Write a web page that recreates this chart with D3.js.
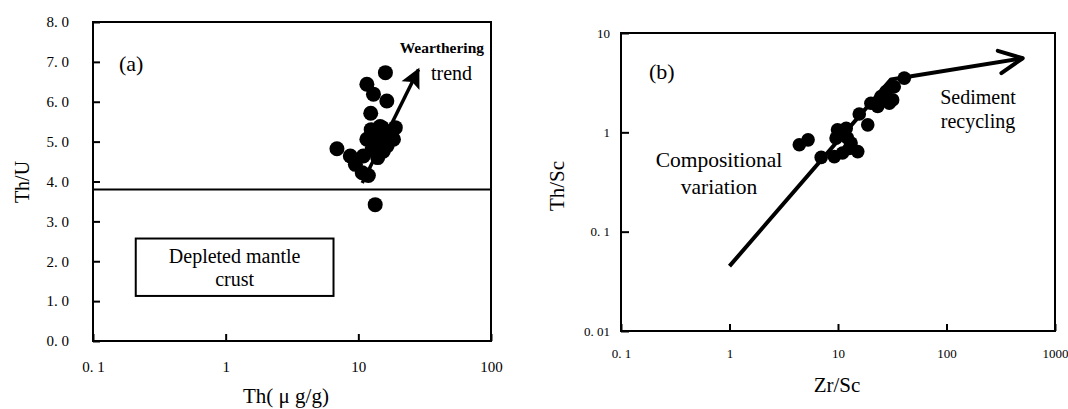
<!DOCTYPE html>
<html>
<head>
<meta charset="utf-8">
<script src="https://d3js.org/d3.v7.min.js"></script>
<style>
  body { margin: 0; background: #fff; }
  svg text { font-family: "Liberation Serif", "Times New Roman", serif; fill: #000; }
</style>
</head>
<body>
<div id="chart"></div>
<script>

// ---- panel (a): Th vs Th/U ----
var thA  = [16.0, 11.6, 13.0, 16.4, 12.4, 15.1, 19.0, 11.6, 14.6, 18.4, 6.9, 8.7, 9.5, 10.7, 11.9, 13.4, 12.7, 15.4, 10.9, 13.5, 17.0, 14.0, 16.5, 12.5, 14.6];
var thuA = [6.73, 6.44, 6.19, 6.02, 5.71, 5.35, 5.35, 5.06, 4.97, 5.06, 4.82, 4.64, 4.43, 4.22, 4.15, 3.42, 4.80, 4.76, 4.64, 5.20, 5.10, 4.60, 4.90, 5.30, 5.38];
var xTicksA = [0.1, 1, 10, 100];
var xTickLabelsA = ["0. 1", "1", "10", "100"];
var yTicksA = [0, 1, 2, 3, 4, 5, 6, 7, 8];
var dmLevel = 3.8;                       // depleted mantle Th/U line
var dmBoxTh = [0.21, 6.5];               // label box, in Th units
var dmBoxThU = [1.13, 2.57];             // label box, in Th/U units
var weatherArrowTh = [10.7, 28.4];
var weatherArrowThU = [3.96, 6.81];

// ---- panel (b): Zr/Sc vs Th/Sc ----
var zrsc = [4.4, 5.3, 7.0, 9.6, 9.9, 11.9, 9.25, 11.0, 13.2, 15.2, 12.7, 15.7, 18.8, 23.2, 24.9, 27.7, 31.9, 33.0, 40.8, 20.1, 29.7, 10.8, 12.2];
var thsc = [0.75, 0.84, 0.56, 0.875, 1.06, 1.10, 0.57, 0.62, 0.78, 0.64, 0.69, 1.53, 1.19, 1.82, 2.29, 2.57, 2.12, 2.88, 3.51, 1.96, 1.96, 0.95, 0.88];
var xTicksB = [0.1, 1, 10, 100, 1000];
var xTickLabelsB = ["0. 1", "1", "10", "100", "1000"];
var yTicksB = [0.01, 0.1, 1, 10];
var yTickLabelsB = ["0. 01", "0. 1", "1", "10"];
var trendZr = [1, 30.8, 504];            // compositional variation -> sediment recycling
var trendTh = [0.045, 3.41, 5.57];

var svg = d3.select("#chart").append("svg")
    .attr("width", 1068)
    .attr("height", 409);

// ================= panel (a) =================
var a = {left: 93, right: 491, top: 22, bottom: 341};

var xA = d3.scaleLog().domain([0.1, 100]).range([a.left, a.right]);
var yA = d3.scaleLinear().domain([0, 8]).range([a.bottom, a.top]);

var gA = svg.append("g");

// ticks point inward
gA.append("g")
    .attr("transform", "translate(0," + a.bottom + ")")
    .call(d3.axisBottom(xA).tickValues(xTicksA)
      .tickFormat(function(d, i) { return xTickLabelsA[i]; })
      .tickSize(-7).tickPadding(20))
    .call(function(g) {
      g.select(".domain").remove();
      g.selectAll("line").attr("stroke-width", 2);
      g.selectAll("text").attr("font-size", 15).attr("font-family", null);
    });

gA.append("g")
    .attr("transform", "translate(" + a.left + ",0)")
    .call(d3.axisLeft(yA).tickValues(yTicksA)
      .tickFormat(function(d) { return d3.format(".1f")(d).replace(".", ". "); })
      .tickSize(-7).tickPadding(24))
    .call(function(g) {
      g.select(".domain").remove();
      g.selectAll("line").attr("stroke-width", 2);
      g.selectAll("text").attr("font-size", 15).attr("font-family", null);
    });

gA.append("rect")
    .attr("x", a.left).attr("y", a.top)
    .attr("width", a.right - a.left).attr("height", a.bottom - a.top)
    .attr("fill", "none").attr("stroke", "#000").attr("stroke-width", 2);

// depleted mantle line
gA.append("line")
    .attr("x1", a.left).attr("x2", a.right)
    .attr("y1", yA(dmLevel)).attr("y2", yA(dmLevel))
    .attr("stroke", "#000").attr("stroke-width", 2);

gA.append("rect")
    .attr("x", xA(dmBoxTh[0])).attr("y", yA(dmBoxThU[1]))
    .attr("width", xA(dmBoxTh[1]) - xA(dmBoxTh[0]))
    .attr("height", yA(dmBoxThU[0]) - yA(dmBoxThU[1]))
    .attr("fill", "none").attr("stroke", "#000").attr("stroke-width", 2);

var boxCx = (xA(dmBoxTh[0]) + xA(dmBoxTh[1])) / 2;
gA.append("text").attr("x", boxCx).attr("y", 263)
    .attr("text-anchor", "middle").attr("font-size", 20).text("Depleted mantle");
gA.append("text").attr("x", boxCx).attr("y", 286)
    .attr("text-anchor", "middle").attr("font-size", 20).text("crust");

gA.append("text").attr("x", 119).attr("y", 71)
    .attr("font-size", 22).text("(a)");

gA.selectAll("circle")
    .data(thA)
    .join("circle")
      .attr("cx", function(d) { return xA(d); })
      .attr("cy", function(d, i) { return yA(thuA[i]); })
      .attr("r", 7.5)
      .attr("fill", "#000");

// weathering arrow, filled head
svg.append("defs").append("marker")
    .attr("id", "headA")
    .attr("viewBox", "0 0 10 10")
    .attr("refX", 9).attr("refY", 5)
    .attr("markerUnits", "userSpaceOnUse")
    .attr("markerWidth", 26).attr("markerHeight", 20)
    .attr("orient", "auto")
  .append("path")
    .attr("d", "M0,0 L10,5 L0,10 L2,5 Z")
    .attr("fill", "#000");

gA.append("line")
    .attr("x1", xA(weatherArrowTh[0])).attr("y1", yA(weatherArrowThU[0]))
    .attr("x2", xA(weatherArrowTh[1])).attr("y2", yA(weatherArrowThU[1]))
    .attr("stroke", "#000").attr("stroke-width", 3.5)
    .attr("marker-end", "url(#headA)");

gA.append("text").attr("x", 484).attr("y", 53)
    .attr("text-anchor", "end").attr("font-size", 15.5).attr("font-weight", "bold")
    .text("Wearthering");
gA.append("text").attr("x", 431).attr("y", 80)
    .attr("font-size", 20).text("trend");

gA.append("text")
    .attr("transform", "translate(29,182) rotate(-90)")
    .attr("text-anchor", "middle").attr("font-size", 20).text("Th/U");
gA.append("text").attr("x", 286).attr("y", 403)
    .attr("text-anchor", "middle").attr("font-size", 21).text("Th( μ g/g)");

// ================= panel (b) =================
var b = {left: 621, right: 1055, top: 33, bottom: 331};

var xB = d3.scaleLog().domain([0.1, 1000]).range([b.left, b.right]);
var yB = d3.scaleLog().domain([0.01, 10]).range([b.bottom, b.top]);

var gB = svg.append("g");

gB.append("g")
    .attr("transform", "translate(0," + b.bottom + ")")
    .call(d3.axisBottom(xB).tickValues(xTicksB)
      .tickFormat(function(d, i) { return xTickLabelsB[i]; })
      .tickSize(-7).tickPadding(18))
    .call(function(g) {
      g.select(".domain").remove();
      g.selectAll("line").attr("stroke-width", 2);
      g.selectAll("text").attr("font-size", 13).attr("font-family", null);
    });

gB.append("g")
    .attr("transform", "translate(" + b.left + ",0)")
    .call(d3.axisLeft(yB).tickValues(yTicksB)
      .tickFormat(function(d, i) { return yTickLabelsB[i]; })
      .tickSize(-8).tickPadding(11))
    .call(function(g) {
      g.select(".domain").remove();
      g.selectAll("line").attr("stroke-width", 2);
      g.selectAll("text").attr("font-size", 13).attr("font-family", null);
    });

gB.append("rect")
    .attr("x", b.left).attr("y", b.top)
    .attr("width", b.right - b.left).attr("height", b.bottom - b.top)
    .attr("fill", "none").attr("stroke", "#000").attr("stroke-width", 2);

var trend = trendZr.map(function(d, i) { return [xB(d), yB(trendTh[i])]; });

gB.append("path")
    .attr("d", d3.line()(trend))
    .attr("fill", "none").attr("stroke", "#000")
    .attr("stroke-width", 4).attr("stroke-linejoin", "round");

// open arrow head at the end of the recycling segment
var tip = trend[2], prev = trend[1];
var ang = Math.atan2(tip[1] - prev[1], tip[0] - prev[0]);
var headLen = 26, spread = 0.45;
var head = [
  [tip[0] - headLen * Math.cos(ang - spread), tip[1] - headLen * Math.sin(ang - spread)],
  tip,
  [tip[0] - headLen * Math.cos(ang + spread), tip[1] - headLen * Math.sin(ang + spread)]
];
gB.append("path")
    .attr("d", d3.line()(head))
    .attr("fill", "none").attr("stroke", "#000")
    .attr("stroke-width", 4).attr("stroke-linecap", "round").attr("stroke-linejoin", "round");

gB.selectAll("circle")
    .data(zrsc)
    .join("circle")
      .attr("cx", function(d) { return xB(d); })
      .attr("cy", function(d, i) { return yB(thsc[i]); })
      .attr("r", 6.8)
      .attr("fill", "#000");

gB.append("text").attr("x", 649).attr("y", 79)
    .attr("font-size", 22).text("(b)");

gB.append("text").attr("x", 719).attr("y", 167)
    .attr("text-anchor", "middle").attr("font-size", 21.5).text("Compositional");
gB.append("text").attr("x", 719).attr("y", 194)
    .attr("text-anchor", "middle").attr("font-size", 21.5).text("variation");

gB.append("text").attr("x", 978).attr("y", 104)
    .attr("text-anchor", "middle").attr("font-size", 20).text("Sediment");
gB.append("text").attr("x", 978).attr("y", 128)
    .attr("text-anchor", "middle").attr("font-size", 20).text("recycling");

gB.append("text")
    .attr("transform", "translate(564,186) rotate(-90)")
    .attr("text-anchor", "middle").attr("font-size", 21).text("Th/Sc");
gB.append("text").attr("x", 837).attr("y", 392)
    .attr("text-anchor", "middle").attr("font-size", 21).text("Zr/Sc");

</script>
</body>
</html>
